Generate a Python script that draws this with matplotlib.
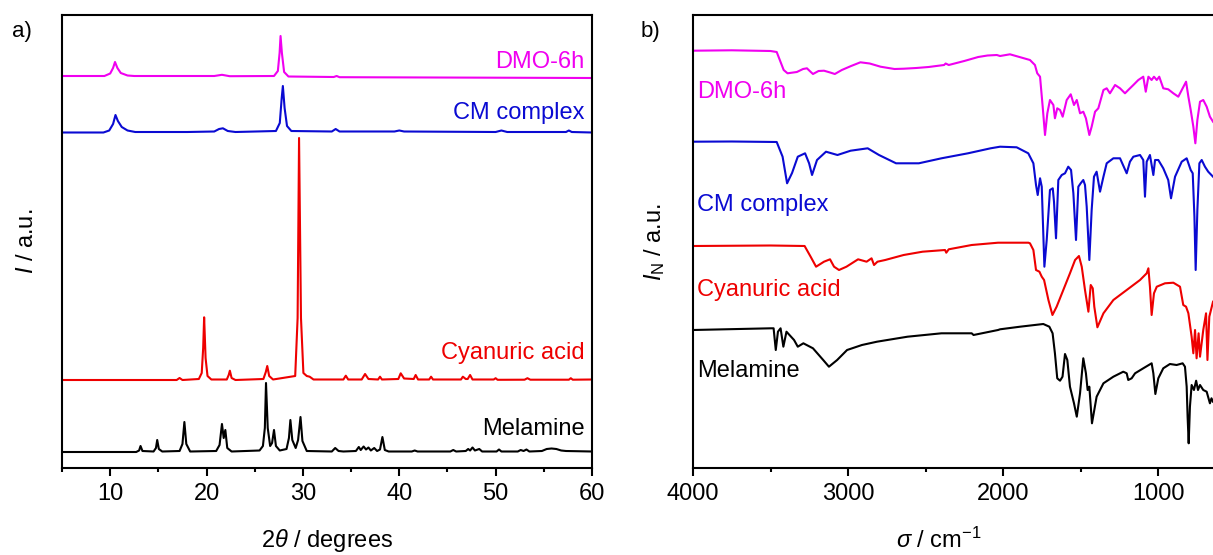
import numpy as np
import matplotlib
matplotlib.use('Agg')
import matplotlib.pyplot as plt
from matplotlib.ticker import MultipleLocator, NullLocator

plt.rcParams['font.family'] = ['Liberation Sans', 'DejaVu Sans']
plt.rcParams['mathtext.fontset'] = 'custom'
plt.rcParams['mathtext.rm'] = 'Liberation Sans'
plt.rcParams['mathtext.it'] = 'Liberation Sans:italic'

#---------------------------- XRD traces (2theta, intensity a.u.) ----------------------------

xrd_melamine = [
    (5, 16), (12.7, 16), (13.0, 17.5), (13.15, 22), (13.35, 17), (14.5, 16.5), (14.75, 20),
    (14.88, 28), (15.05, 19), (15.4, 16.5), (17.2, 17), (17.5, 24), (17.7, 46), (17.9, 24),
    (18.3, 16.5), (21.0, 17), (21.35, 23), (21.6, 44), (21.78, 30), (21.95, 38), (22.15, 20),
    (22.6, 16.5), (25.5, 17.5), (25.85, 22), (26.05, 40), (26.17, 85), (26.35, 40), (26.6, 22),
    (26.8, 25), (27.0, 38), (27.2, 22), (27.6, 17.5), (28.3, 19), (28.55, 30), (28.7, 48),
    (28.9, 28), (29.25, 20), (29.5, 28), (29.75, 51), (29.95, 27), (30.4, 17), (33.0, 16.5),
    (33.35, 20), (33.7, 17), (34.2, 16.5), (35.5, 17), (35.8, 21), (36.0, 18), (36.3, 21.5),
    (36.55, 18.5), (36.8, 20.5), (37.05, 17.5), (37.4, 20), (37.7, 17), (38.0, 18.5),
    (38.25, 31), (38.5, 18), (38.9, 16.5), (41.3, 16.5), (41.6, 17.5), (41.9, 16.5),
    (45.3, 16.5), (45.6, 18), (45.9, 16.5), (46.9, 17), (47.15, 19), (47.35, 17.5),
    (47.6, 20.5), (47.85, 17.5), (48.3, 19), (48.6, 16.5), (50.1, 16.5), (50.35, 18.5),
    (50.6, 16.5), (52.3, 16.5), (52.6, 18), (52.9, 17), (53.2, 18.5), (53.5, 16.5),
    (54.8, 17), (55.3, 19), (55.8, 19.5), (56.3, 19), (56.8, 17.5), (57.3, 17), (60, 16.5),
]

xrd_cyanuric = [
    (5, 88), (16.9, 88), (17.2, 90), (17.5, 88), (19.2, 89), (19.5, 95), (19.65, 120),
    (19.75, 150.7), (19.9, 110), (20.1, 92), (20.5, 88.5), (22.1, 88.5), (22.3, 93),
    (22.42, 97.3), (22.6, 90), (23.0, 88), (25.9, 89), (26.15, 96), (26.3, 102), (26.5, 92),
    (26.9, 88.5), (29.2, 92), (29.45, 150), (29.6, 330), (29.8, 150), (30.05, 95), (30.4, 92),
    (30.7, 91.3), (31.1, 88.5), (34.2, 88.5), (34.45, 92.3), (34.7, 88.5), (36.1, 88.5),
    (36.45, 94), (36.8, 89), (37.8, 88.5), (38.0, 91.3), (38.2, 88.5), (39.9, 89),
    (40.15, 94.7), (40.5, 89.5), (41.5, 89), (41.7, 93), (41.95, 88.5), (43.1, 88.5),
    (43.3, 91.3), (43.5, 88.5), (46.4, 88.5), (46.6, 91.3), (46.9, 89), (47.1, 89),
    (47.35, 93), (47.6, 88.5), (49.8, 88.5), (50.0, 89.8), (50.2, 88.2), (53.0, 88.3),
    (53.3, 89.8), (53.6, 88.3), (57.6, 88.3), (57.8, 89.8), (58.0, 88.3), (60, 88.5),
]

xrd_cm = [
    (5, 335.5), (9.3, 335.5), (9.9, 337.5), (10.3, 344), (10.55, 353), (10.8, 347),
    (11.2, 341), (11.8, 337.5), (12.6, 336), (18, 336), (20.8, 336.5), (21.3, 339),
    (21.7, 339.7), (22.2, 337), (23, 336), (27.2, 337), (27.6, 345), (27.8, 370),
    (27.92, 382), (28.1, 360), (28.35, 342), (28.8, 337), (33.0, 336.5), (33.4, 339),
    (33.8, 336.5), (39.5, 336.5), (40.0, 337.5), (40.5, 336.5), (50.0, 336), (50.6, 337.5),
    (51.2, 336), (57.3, 336), (57.6, 337.5), (57.9, 336), (60, 335.5),
]

xrd_dmo = [
    (5, 392), (9.4, 392), (10.0, 394.5), (10.3, 400), (10.5, 406), (10.75, 400), (11.1, 395),
    (11.8, 392.5), (12.5, 392), (20.8, 392), (21.6, 393.2), (22.4, 391.8), (27.0, 392),
    (27.4, 397), (27.58, 415), (27.68, 432), (27.82, 415), (28.05, 396), (28.5, 391.5),
    (33.2, 391), (33.5, 392), (33.8, 390.8), (60, 390),
]

#---------------------------- IR traces (wavenumber, intensity a.u.) ----------------------------

ir_dmo = [
    (4000, 417.3), (3750, 417.7), (3500, 417), (3460, 416), (3440, 408), (3415, 398),
    (3390, 394.7), (3330, 396), (3290, 399), (3265, 399.7), (3240, 396), (3226, 394),
    (3190, 397), (3155, 397.3), (3115, 395.5), (3085, 394), (3040, 398), (2980, 402),
    (2920, 405.7), (2860, 404.5), (2790, 401.3), (2700, 399), (2640, 399.3), (2560, 400),
    (2480, 401), (2380, 403), (2370, 404.5), (2350, 403), (2250, 407), (2160, 411),
    (2100, 412.5), (2040, 413), (2019, 412), (1955, 413.7), (1826, 408), (1794, 403),
    (1779, 394.7), (1761, 391.3), (1744, 361.3), (1729, 333), (1714, 354.7), (1697, 368),
    (1675, 363), (1665, 349.7), (1650, 359.7), (1632, 358), (1615, 351.3), (1589, 368),
    (1563, 373.7), (1542, 363), (1524, 368), (1503, 354.7), (1482, 356.3), (1465, 349.7),
    (1443, 333), (1428, 341.3), (1406, 356.3), (1385, 359.7), (1352, 378), (1331, 379.7),
    (1310, 374.7), (1277, 383), (1245, 379.7), (1213, 374.7), (1192, 378), (1159, 383),
    (1127, 388), (1095, 391.3), (1079, 376.3), (1062, 391.3), (1041, 388), (1026, 391.3),
    (1008, 388), (992, 391.3), (966, 379.7), (934, 378.7), (901, 374.7), (869, 371.3),
    (841, 379.7), (819, 386.3), (804, 371.3), (789, 358), (772, 341.3), (759, 324.7),
    (746, 348), (729, 366.3), (708, 368), (686, 361.3), (665, 351.3), (645, 346.3),
]

ir_cm = [
    (4000, 326.3), (3750, 326.5), (3460, 326), (3422, 311.3), (3393, 284.7), (3361, 295),
    (3324, 311.3), (3277, 314.7), (3251, 304.7), (3232, 293), (3200, 308), (3142, 316.3),
    (3068, 313), (2983, 317.3), (2873, 319.7), (2800, 313), (2690, 304.7), (2543, 304.7),
    (2397, 309.7), (2226, 314.7), (2080, 319.7), (2019, 321.3), (1912, 320.7), (1837, 314.7),
    (1804, 304.7), (1787, 283), (1776, 273), (1761, 289.7), (1750, 281.3), (1733, 201.3),
    (1718, 228), (1697, 278), (1679, 279.7), (1671, 266.3), (1658, 229.7), (1643, 288),
    (1621, 293), (1600, 294.7), (1579, 301.3), (1561, 298), (1546, 274.7), (1529, 228),
    (1514, 281.3), (1499, 284.7), (1482, 288), (1471, 283), (1460, 261.3), (1443, 208),
    (1428, 258), (1413, 291.3), (1396, 296.3), (1374, 276.3), (1352, 291.3), (1331, 304.7),
    (1288, 309.7), (1245, 309.7), (1202, 294.7), (1181, 306.3), (1159, 311.3), (1116, 313),
    (1095, 308), (1084, 271.3), (1073, 306.3), (1052, 313), (1030, 293), (1019, 308),
    (998, 308), (966, 299.7), (934, 288), (916, 269.7), (890, 291.3), (847, 306.3),
    (815, 309.7), (789, 298), (776, 294.7), (765, 251.3), (757, 198), (746, 258),
    (733, 304.7), (718, 308), (697, 301.3), (676, 296.3), (645, 291.3),
]

ir_cyanuric = [
    (4000, 222), (3500, 222.5), (3280, 222), (3240, 211), (3206, 201.3), (3155, 206.3),
    (3116, 208.7), (3090, 201.3), (3058, 198), (3010, 201.3), (2935, 208.7), (2880, 206.3),
    (2848, 209.7), (2832, 203), (2810, 206.3), (2760, 208), (2641, 213), (2519, 216.3),
    (2374, 218), (2366, 215.3), (2350, 218.7), (2202, 223), (2032, 225.3), (1836, 225.3),
    (1826, 224.7), (1804, 218), (1787, 198), (1765, 196.3), (1750, 191.3), (1735, 188),
    (1707, 168), (1681, 153), (1654, 161.3), (1611, 178), (1568, 194.7), (1535, 208),
    (1510, 212), (1492, 201.3), (1471, 178), (1449, 156.3), (1434, 183), (1421, 179.7),
    (1411, 161.3), (1391, 140.7), (1352, 154.7), (1288, 168), (1202, 178), (1116, 188),
    (1073, 194.7), (1062, 199.7), (1052, 181.3), (1041, 153), (1026, 174.7), (1008, 181.3),
    (955, 184.7), (901, 185.3), (858, 181.3), (837, 163), (819, 161.3), (804, 154.7),
    (783, 131.3), (772, 114.7), (761, 138), (751, 109.7), (738, 134.7), (729, 111.3),
    (708, 138), (690, 154.7), (681, 108), (669, 151.3), (645, 166.3),
]

ir_melamine = [
    (4000, 138), (3497, 139.7), (3480, 139.7), (3466, 118), (3452, 136.3), (3435, 139.7),
    (3417, 121.3), (3397, 136.3), (3348, 128), (3324, 121.3), (3288, 124.7), (3226, 119.7),
    (3160, 108), (3123, 101.3), (3070, 108), (3006, 118), (2910, 123), (2813, 126.3),
    (2616, 131.3), (2397, 134.7), (2202, 134.7), (2190, 133), (2032, 138), (2019, 138.7),
    (1890, 141.3), (1740, 144), (1701, 141.3), (1680, 134.7), (1665, 114.7), (1650, 89.7),
    (1632, 87.3), (1616, 91.3), (1600, 114), (1585, 108), (1568, 81.3), (1542, 64.7),
    (1524, 51.3), (1503, 74.7), (1482, 109.7), (1465, 94.7), (1454, 78), (1443, 81.3),
    (1426, 44.7), (1396, 71.3), (1352, 84.7), (1288, 91.3), (1224, 96.3), (1202, 94.7),
    (1192, 88), (1170, 89.7), (1148, 94.7), (1095, 99.7), (1041, 104.7), (1030, 94.7),
    (1017, 74), (998, 89.7), (966, 99.7), (923, 104), (880, 103), (841, 104.7), (826, 101.3),
    (815, 81.3), (809, 51.3), (802, 24.7), (794, 61.3), (783, 83), (768, 78), (754, 87.3),
    (742, 78), (729, 83), (708, 78), (686, 76.3), (665, 64.7), (655, 69.7), (645, 66.3),
]

names = ['DMO-6h', 'CM complex', 'Cyanuric acid', 'Melamine']
colors = ['#f000f0', '#0a0ad2', '#ee0000', '#000000']

# baseline heights of the sample names in each panel
xrd_label_y = [399.7, 349, 108.7, 33]
ir_label_y = [369.7, 256.5, 172, 91.3]

#---------------------------- Figure ----------------------------

fig = plt.figure(figsize=(12.13, 5.55), dpi=100)
ax1 = fig.add_axes([62/1213, 87/555, 530/1213, 453/555])
ax2 = fig.add_axes([693/1213, 87/555, 558/1213, 453/555])

def style_axes(ax):
    for s in ax.spines.values():
        s.set_linewidth(1.5)
    ax.tick_params(axis='x', which='major', direction='out', length=5.5, width=1.5,
                   labelsize=17, pad=5)
    ax.tick_params(axis='x', which='minor', direction='out', length=2.8, width=1.5)
    ax.yaxis.set_major_locator(NullLocator())
    ax.set_ylim(0, 453)

# a) XRD
for data, c in zip([xrd_dmo, xrd_cm, xrd_cyanuric, xrd_melamine], colors):
    d = np.array(data)
    ax1.plot(d[:, 0], d[:, 1], color=c, lw=1.5)
ax1.set_xlim(5, 60)
ax1.xaxis.set_major_locator(MultipleLocator(10))
ax1.xaxis.set_minor_locator(MultipleLocator(5))
style_axes(ax1)
for name, c, y in zip(names, colors, xrd_label_y):
    ax1.text(59.25, y, name, color=c, fontsize=17, ha='right', va='baseline')
ax1.set_xlabel(r'2$\theta$ / degrees', fontsize=17, va='center')
ax1.xaxis.set_label_coords(0.5, (468 - 540) / 453)
ax1.set_ylabel(r'$I$ / a.u.', fontsize=17, va='center')
ax1.yaxis.set_label_coords((27 - 62) / 530, 0.5)

# b) IR
for data, c in zip([ir_dmo, ir_cm, ir_cyanuric, ir_melamine], colors):
    d = np.array(data)
    ax2.plot(d[:, 0], d[:, 1], color=c, lw=1.5)
ax2.set_xlim(4000, 400)
ax2.xaxis.set_major_locator(MultipleLocator(1000))
ax2.xaxis.set_minor_locator(MultipleLocator(500))
style_axes(ax2)
for name, c, y in zip(names, colors, ir_label_y):
    ax2.text(3971, y, name, color=c, fontsize=17, ha='left', va='baseline')
ax2.set_xlabel(r'$\sigma$ / cm$^{\mathrm{-1}}$', fontsize=17, va='center')
ax2.xaxis.set_label_coords((939 - 693) / 558, (468 - 540) / 453)
ax2.set_ylabel(r'$I_{\mathrm{N}}$ / a.u.', fontsize=17, va='center')
ax2.yaxis.set_label_coords((655 - 693) / 558, 0.5)

fig.text(12/1213, 1 - 31/555, 'a)', fontsize=16, va='center')
fig.text(641/1213, 1 - 31/555, 'b)', fontsize=16, va='center')

fig.savefig('out.png', dpi=100)
